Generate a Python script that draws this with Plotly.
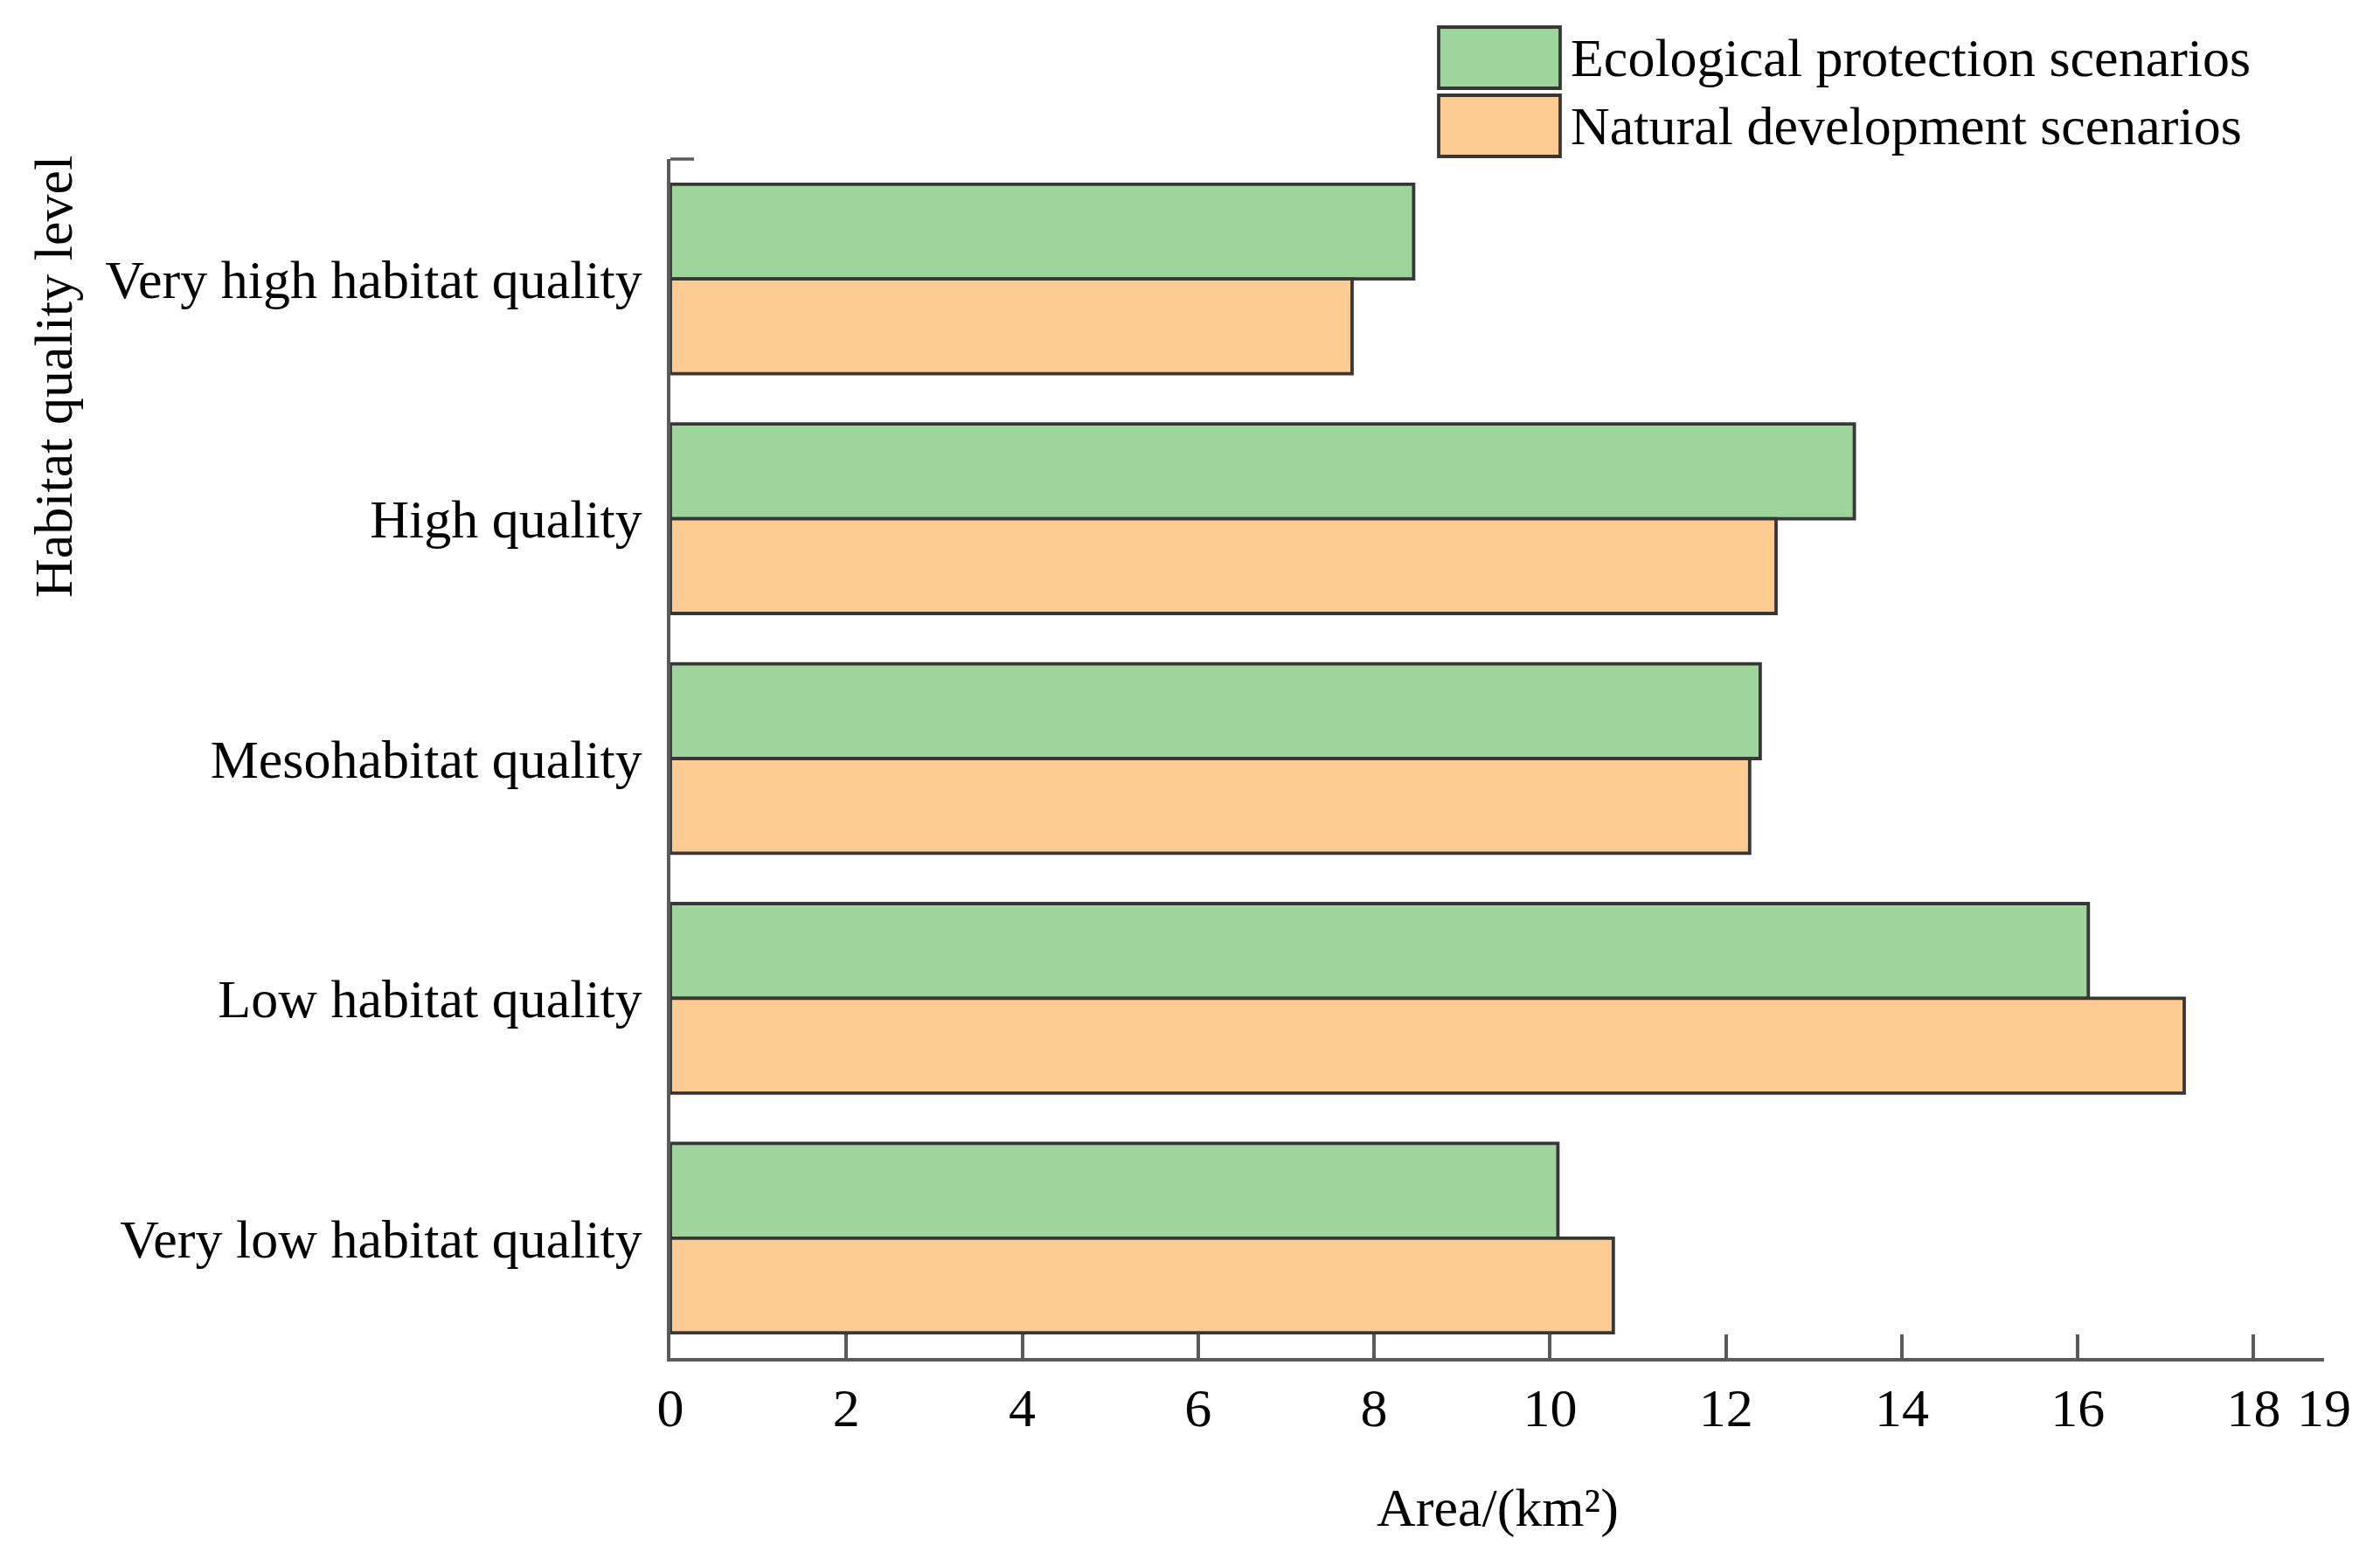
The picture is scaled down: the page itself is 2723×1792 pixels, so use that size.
import plotly.graph_objects as go

# ---- data ----
categories = ["Very high habitat quality", "High quality", "Mesohabitat quality",
              "Low habitat quality", "Very low habitat quality"]
eco_protection = [8.45, 13.46, 12.39, 16.12, 10.09]
natural_dev = [7.75, 12.57, 12.27, 17.21, 10.72]
series_names = ["Ecological protection scenarios", "Natural development scenarios"]
x_tick_vals = [0, 2, 4, 6, 8, 10, 12, 14, 16, 18, 18.8]
x_tick_text = ["0", "2", "4", "6", "8", "10", "12", "14", "16", "18", "19"]
x_max = 18.8

GREEN = "rgb(157,213,154)"
ORANGE = "rgb(254,204,146)"
EDGE = "rgb(55,55,55)"
AXIS = "rgb(90,90,90)"
FONT = "Liberation Serif"

OFF = 8  # default body margin of the html page
W, H = 2723 - 2 * OFF, 1792 - 2 * OFF
PLOT_LEFT, PLOT_RIGHT, PLOT_TOP, PLOT_BOTTOM = 767, 2659, 182, 1554  # page px
L = PLOT_LEFT - OFF
T = PLOT_TOP - OFF
PW = PLOT_RIGHT - PLOT_LEFT
PH = PLOT_BOTTOM - PLOT_TOP
R = W - L - PW
B = H - T - PH


def px2paper_x(px):
    return (px - PLOT_LEFT) / PW


def px2paper_y(py):
    return (PLOT_BOTTOM - py) / PH


fig = go.Figure()
for name, vals, col in [(series_names[0], eco_protection, GREEN),
                        (series_names[1], natural_dev, ORANGE)]:
    fig.add_trace(go.Bar(
        y=categories, x=vals, name=name, orientation="h",
        marker=dict(color=col, line=dict(color=EDGE, width=3.8)),
        showlegend=False,
    ))

fig.update_layout(
    width=W, height=H,
    margin=dict(l=L, r=R, t=T, b=B, pad=0),
    paper_bgcolor="white", plot_bgcolor="white",
    barmode="group", bargap=0.21, bargroupgap=0,
    font=dict(family=FONT, size=62, color="black"),
    xaxis=dict(
        range=[0, x_max], tickmode="array", tickvals=x_tick_vals, ticktext=x_tick_text,
        showgrid=False, zeroline=False, showline=True, linecolor=AXIS, linewidth=3.5,
        ticks="inside", ticklen=27, tickwidth=3.5, tickcolor=AXIS,
        tickfont=dict(family=FONT, size=62, color="black"),
        ticklabelstandoff=0,
    ),
    yaxis=dict(
        categoryorder="array", categoryarray=categories, range=[4.5, -0.5],
        showgrid=False, zeroline=False, showline=True, linecolor=AXIS, linewidth=3.5,
        ticks="", tickfont=dict(family=FONT, size=62, color="black"),
        ticklabelstandoff=16,
    ),
)

# top tick on y axis
fig.add_shape(type="line", xref="paper", yref="paper",
              x0=0, x1=px2paper_x(PLOT_LEFT + 27), y0=1, y1=1,
              line=dict(color=AXIS, width=3.5))

# manual legend
legend_boxes = [(31, 101, GREEN), (109, 179, ORANGE)]
for (y0, y1, col), name in zip(legend_boxes, series_names):
    fig.add_shape(type="rect", xref="paper", yref="paper",
                  x0=px2paper_x(1646), x1=px2paper_x(1785),
                  y0=px2paper_y(y1), y1=px2paper_y(y0),
                  fillcolor=col, line=dict(color=EDGE, width=3.8))
    fig.add_annotation(xref="paper", yref="paper",
                       x=px2paper_x(1795), y=px2paper_y((y0 + y1) / 2),
                       text=name, showarrow=False, xanchor="left", yanchor="middle",
                       font=dict(family=FONT, size=62, color="black"))

# axis titles
fig.add_annotation(xref="paper", yref="paper", x=0.5, y=px2paper_y(1725),
                   text="Area/(km²)", showarrow=False, xanchor="center", yanchor="middle",
                   font=dict(family=FONT, size=62, color="black"))
fig.add_annotation(xref="paper", yref="paper", x=px2paper_x(61), y=px2paper_y(431),
                   text="Habitat quality level", showarrow=False, textangle=-90,
                   xanchor="center", yanchor="middle",
                   font=dict(family=FONT, size=62, color="black"))

fig.write_html("out.html")
